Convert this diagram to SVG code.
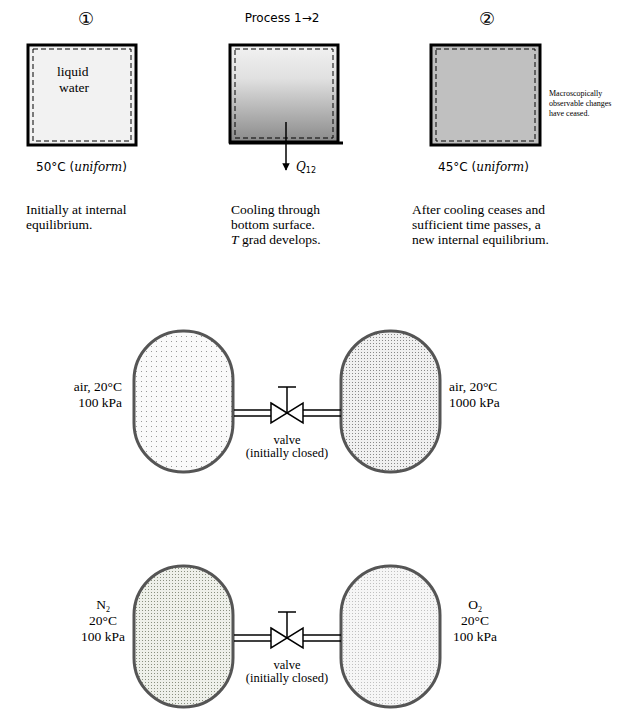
<svg xmlns="http://www.w3.org/2000/svg" width="632" height="712" viewBox="0 0 632 712">
<style>
text{font-family:"Liberation Serif",serif;font-size:12px;fill:#000}
.d{font-size:13.5px}
.box{stroke:#000;stroke-width:3}
.dash{fill:none;stroke:#000;stroke-width:1;stroke-dasharray:5,3}
.tank{stroke:#555;stroke-width:3}
.pipe{stroke:#000;stroke-width:1.5}
.sm{font-size:12.5px}
.tiny{font-size:8px}
.circ{font-size:18px;font-family:"DejaVu Sans",sans-serif}
.temp{font-family:"DejaVu Sans",sans-serif;font-size:12px}
.it{font-family:"DejaVu Serif",serif;font-style:italic}
.sub{font-size:8px}
</style>
<defs>
<linearGradient id="g" x1="0" y1="0" x2="0" y2="1"><stop offset="0" stop-color="#f2f2f2"/><stop offset="0.35" stop-color="#e0e0e0"/><stop offset="1" stop-color="#8a8a8a"/></linearGradient>
<pattern id="p1" width="5" height="5" patternUnits="userSpaceOnUse"><rect width="5" height="5" fill="#fafafa"/><rect x="1" y="1" width="1" height="1" fill="#999"/></pattern>
<pattern id="p2" width="3" height="3" patternUnits="userSpaceOnUse"><rect width="3" height="3" fill="#f0f0f0"/><rect x="1" y="1" width="1" height="1" fill="#888"/></pattern>
<pattern id="p3" width="3" height="3" patternUnits="userSpaceOnUse"><rect width="3" height="3" fill="#eef0ea"/><rect x="1" y="1" width="1" height="1" fill="#8a9080"/></pattern>
<pattern id="p4" width="3" height="3" patternUnits="userSpaceOnUse"><rect width="3" height="3" fill="#f6f6f6"/><rect x="1" y="1" width="1" height="1" fill="#c0c0c0"/></pattern>
<marker id="ah" viewBox="0 0 10 10" refX="9" refY="5" markerWidth="5" markerHeight="5" orient="auto"><path d="M0,0L10,5L0,10z" fill="#000"/></marker>
<g id="valve"><line class="pipe" x1="-53" y1="-3" x2="-16" y2="-3"/><line class="pipe" x1="-53" y1="3" x2="-16" y2="3"/><line class="pipe" x1="16" y1="-3" x2="54" y2="-3"/><line class="pipe" x1="16" y1="3" x2="54" y2="3"/><path d="M-16,-10L16,10L16,-10L-16,10z" fill="#fff" stroke="#000" stroke-width="1.5"/><line class="pipe" x1="0" y1="0" x2="0" y2="-26"/><line class="pipe" x1="-9" y1="-26" x2="9" y2="-26"/></g>
</defs>
<g id="state1">
<text class="circ" x="86" y="25" text-anchor="middle">①</text>
<rect class="box" x="28" y="45" width="108" height="100" fill="#f2f2f2"/>
<rect class="dash" x="33" y="49" width="98" height="92"/>
<text class="d" x="57" y="76">liquid</text><text class="d" x="59" y="92">water</text>
<text class="temp" x="36" y="171">50°C (<tspan class="it">uniform</tspan>)</text>
<text class="d" x="26" y="214">Initially at internal</text><text class="d" x="26" y="229">equilibrium.</text>
</g>
<g id="process">
<text class="temp" x="282" y="22" text-anchor="middle">Process 1→2</text>
<rect class="box" x="230" y="45" width="108" height="97" fill="url(#g)"/>
<rect class="dash" x="235" y="49" width="98" height="89"/>
<line x1="229" y1="143" x2="343" y2="143" stroke="#000" stroke-width="3"/>
<text class="temp" x="296" y="171"><tspan class="it">Q</tspan><tspan class="sub" dy="2">12</tspan></text>
<text class="d" x="231" y="214">Cooling through</text><text class="d" x="231" y="229">bottom surface.</text><text class="d" x="231" y="244"><tspan font-style="italic">T</tspan> grad develops.</text>
</g>
<g id="state2">
<text class="circ" x="487" y="25" text-anchor="middle">②</text>
<rect class="box" x="431" y="45" width="109" height="100" fill="#c0c0c0"/>
<rect class="dash" x="436" y="49" width="99" height="92"/>
<text class="tiny" x="549" y="96">Macroscopically</text><text class="tiny" x="549" y="106">observable changes</text><text class="tiny" x="549" y="116">have ceased.</text>
<text class="temp" x="438" y="171">45°C (<tspan class="it">uniform</tspan>)</text>
<text class="d" x="412" y="214">After cooling ceases and</text><text class="d" x="412" y="229">sufficient time passes, a</text><text class="d" x="412" y="244">new internal equilibrium.</text>
</g>
<g id="tankA"><rect class="tank" x="134" y="331" width="99" height="141" rx="49" ry="49" fill="url(#p1)"/>
<text class="d" x="122" y="391" text-anchor="end">air, 20°C</text><text class="d" x="122" y="407" text-anchor="end">100 kPa</text></g>
<g id="tankB"><rect class="tank" x="341" y="331" width="99" height="141" rx="49" ry="49" fill="url(#p2)"/>
<text class="d" x="449" y="391">air, 20°C</text><text class="d" x="449" y="407">1000 kPa</text></g>
<g id="tankC"><rect class="tank" x="134" y="566" width="99" height="141" rx="49" ry="49" fill="url(#p3)"/>
<text class="d" x="103" y="609" text-anchor="middle">N<tspan class="sub" dy="3">2</tspan></text><text class="d" x="103" y="625" text-anchor="middle">20°C</text><text class="d" x="103" y="641" text-anchor="middle">100 kPa</text></g>
<g id="tankD"><rect class="tank" x="341" y="566" width="99" height="141" rx="49" ry="49" fill="url(#p4)"/>
<text class="d" x="475" y="609" text-anchor="middle">O<tspan class="sub" dy="3">2</tspan></text><text class="d" x="475" y="625" text-anchor="middle">20°C</text><text class="d" x="475" y="641" text-anchor="middle">100 kPa</text></g>
<g id="valve1"><use href="#valve" x="287" y="413"/><text class="sm" x="287" y="444" text-anchor="middle">valve</text><text class="sm" x="287" y="457" text-anchor="middle">(initially closed)</text></g>
<g id="valve2"><use href="#valve" x="287" y="638"/><text class="sm" x="287" y="669" text-anchor="middle">valve</text><text class="sm" x="287" y="682" text-anchor="middle">(initially closed)</text></g>
<g id="connectors"><line x1="286" y1="122" x2="286" y2="170" stroke="#000" stroke-width="1.5" marker-end="url(#ah)"/></g>
</svg>
